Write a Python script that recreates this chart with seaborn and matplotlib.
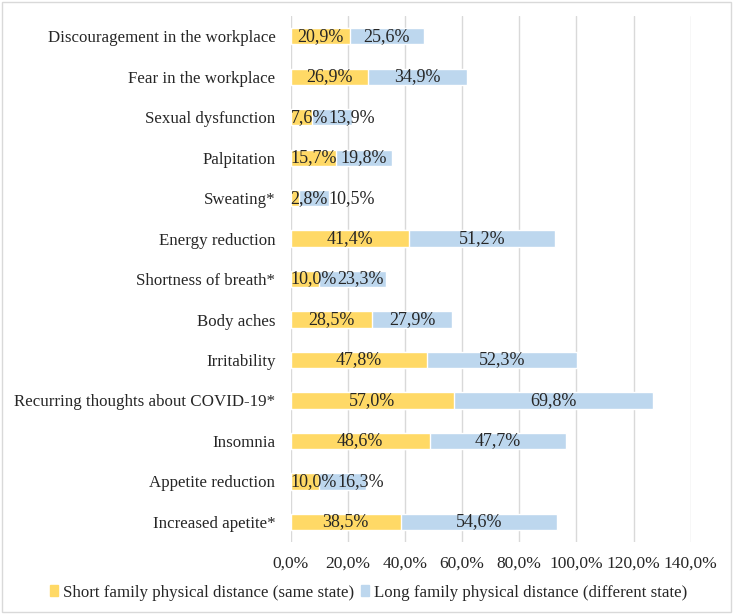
import pandas as pd
import matplotlib.pyplot as plt
import seaborn as sns

# ==========================================
# DATOS
# ==========================================

categorias = [
    "Discouragement in the workplace",
    "Fear in the workplace",
    "Sexual dysfunction",
    "Palpitation",
    "Sweating*",
    "Energy reduction",
    "Shortness of breath*",
    "Body aches",
    "Irritability",
    "Recurring thoughts about COVID-19*",
    "Insomnia",
    "Appetite reduction",
    "Increased apetite*",
]

corta = [20.9, 26.9, 7.6, 15.7, 2.8, 41.4, 10.0, 28.5, 47.8, 57.0, 48.6, 10.0, 38.5]
larga = [25.6, 34.9, 13.9, 19.8, 10.5, 51.2, 23.3, 27.9, 52.3, 69.8, 47.7, 16.3, 54.6]

ticks = [0, 20, 40, 60, 80, 100, 120, 140]

serie_corta = "Short family physical distance (same state)"
serie_larga = "Long family physical distance (different state)"

COLOR_CORTA = "#FFD966"
COLOR_LARGA = "#BDD7EE"

FS = 12.5

df = pd.DataFrame({
    "categoria": categorias,
    "corta": corta,
    "larga": larga,
})
df["total"] = df["corta"] + df["larga"]


def pct(v):
    return f"{v:.1f}%".replace(".", ",")


# ==========================================
# GRAFICO
# ==========================================

sns.set_style("white")
plt.rcParams["font.family"] = ["Liberation Serif", "DejaVu Serif"]

fig = plt.figure(figsize=(7.33, 6.14), dpi=100)
ax = fig.add_axes([0.3966, 0.117, 0.5457, 0.857])

sns.barplot(data=df, y="categoria", x="total", color=COLOR_LARGA,
            width=0.4, saturation=1, ax=ax, zorder=2)
sns.barplot(data=df, y="categoria", x="corta", color=COLOR_CORTA,
            width=0.4, saturation=1, ax=ax, zorder=3)

ax.set_xlim(0, 140)
ax.set_ylim(12.5, -0.5)

# etiquetas: centradas, corridas si no entran (como Excel)
fig.canvas.draw()
renderer = fig.canvas.get_renderer()
inv = ax.transData.inverted()
x0_px = ax.transData.transform((0, 0))[0]

for i, fila in df.iterrows():
    t1 = ax.text(fila["corta"] / 2, i, pct(fila["corta"]),
                 ha="center", va="center", fontsize=FS + 0.5, zorder=4)
    bb1 = t1.get_window_extent(renderer)
    if bb1.x0 < x0_px:
        t1.set_ha("left")
        t1.set_x(0)
        bb1 = t1.get_window_extent(renderer)
    fin1 = inv.transform((bb1.x1, 0))[0]

    t2 = ax.text(fila["corta"] + fila["larga"] / 2, i, pct(fila["larga"]),
                 ha="center", va="center", fontsize=FS + 0.5, zorder=4)
    bb2 = t2.get_window_extent(renderer)
    if bb2.x0 < bb1.x1:
        t2.set_ha("left")
        t2.set_x(fin1)

ax.set_xticks(ticks)
ax.set_xticklabels([pct(t) for t in ticks], fontsize=FS)
ax.tick_params(axis="y", labelsize=FS - 0.3, length=0, pad=11)
ax.tick_params(axis="x", length=0, pad=10)
ax.set_xlabel("")
ax.set_ylabel("")
ax.grid(axis="x", color="#D9D9D9", linewidth=1, zorder=0)
ax.set_axisbelow(True)
for s in ax.spines.values():
    s.set_visible(False)

handles = [
    plt.Rectangle((0, 0), 1, 1, color=COLOR_CORTA),
    plt.Rectangle((0, 0), 1, 1, color=COLOR_LARGA),
]
fig.legend(handles, [serie_corta, serie_larga], loc="center",
           bbox_to_anchor=(0.503, 0.035), ncol=2, frameon=False,
           fontsize=FS - 0.3, handlelength=0.45, handleheight=0.6,
           handletextpad=0.3, columnspacing=0.4)

# marco exterior
fig.patches.append(plt.Rectangle((0.003, 0.003), 0.994, 0.994,
                                 transform=fig.transFigure, fill=False,
                                 edgecolor="#D9D9D9", linewidth=1))

plt.savefig("out.png", dpi=100)
plt.close()
